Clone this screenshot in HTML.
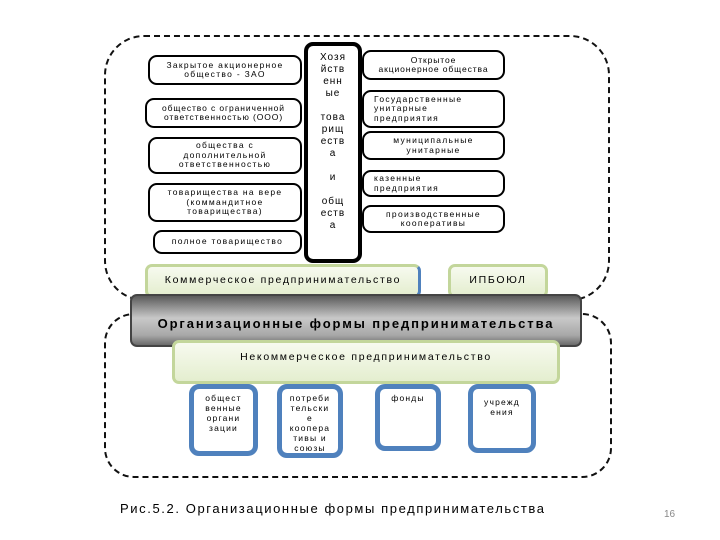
<!DOCTYPE html>
<html><head><meta charset="utf-8"><style>
body{margin:0;width:720px;height:540px;background:#fff;position:relative;overflow:hidden;font-family:"Liberation Sans","DejaVu Sans",sans-serif;}
div{position:absolute;box-sizing:border-box;}
.d{border:2px dashed #111;}
.b{border:2px solid #000;border-radius:9px;background:#fff;font-size:8.5px;letter-spacing:1.3px;text-align:center;line-height:9.5px;display:flex;align-items:center;justify-content:center;white-space:nowrap;}
.l{justify-content:flex-start;text-align:left;padding-left:10px;}
.g{border:3px solid #c3d69b;border-radius:7px;background:linear-gradient(#f7faef,#e4eecf);font-size:10.5px;letter-spacing:1.7px;text-align:center;white-space:nowrap;}
.u{border:5px solid #4f81bd;border-radius:10px;background:#fff;font-size:8.5px;letter-spacing:1.2px;line-height:10px;text-align:center;padding-top:4px;}
</style></head><body>
<div class="d" style="left:104px;top:35px;width:506px;height:266px;border-radius:40px;"></div>
<div class="d" style="left:104px;top:313px;width:508px;height:165px;border-radius:30px;"></div>

<div class="b" style="left:148px;top:55px;width:154px;height:30px;">Закрытое акционерное<br>общество - ЗАО</div>
<div class="b" style="left:145px;top:98px;width:157px;height:30px;letter-spacing:0.9px;">общество с ограниченной<br>ответственностью (ООО)</div>
<div class="b" style="left:148px;top:137px;width:154px;height:37px;">общества с<br>дополнительной<br>ответственностью</div>
<div class="b" style="left:148px;top:183px;width:154px;height:39px;">товарищества на вере<br>(коммандитное<br>товарищества)</div>
<div class="b" style="left:153px;top:230px;width:149px;height:24px;">полное товарищество</div>

<div class="b" style="left:304px;top:42px;width:58px;height:221px;border-width:4px;align-items:flex-start;padding-top:6px;font-size:10px;line-height:12px;letter-spacing:1px;">Хозя<br>йств<br>енн<br>ые<br><br>това<br>рищ<br>еств<br>а<br><br>и<br><br>общ<br>еств<br>а</div>

<div class="b" style="left:362px;top:50px;width:143px;height:30px;letter-spacing:0.9px;">Открытое<br>акционерное общества</div>
<div class="b l" style="left:362px;top:90px;width:143px;height:38px;">Государственные<br>унитарные<br>предприятия</div>
<div class="b" style="left:362px;top:131px;width:143px;height:29px;">муниципальные<br>унитарные</div>
<div class="b l" style="left:362px;top:170px;width:143px;height:27px;">казенные<br>предприятия</div>
<div class="b" style="left:362px;top:205px;width:143px;height:28px;">производственные<br>кооперативы</div>

<div class="g" style="left:145px;top:264px;width:276px;height:34px;line-height:26px;border-right-color:#4f81bd;">Коммерческое предпринимательство</div>
<div class="g" style="left:448px;top:264px;width:100px;height:34px;line-height:26px;">ИПБОЮЛ</div>

<div style="left:130px;top:294px;width:452px;height:53px;border-radius:7px;background:linear-gradient(#5a5a5a,#c8c8c8 45%,#a8a8a8 80%,#6a6a6a);border:2px solid #444;font-size:13px;font-weight:bold;letter-spacing:1.9px;text-align:center;line-height:56px;white-space:nowrap;">Организационные формы предпринимательства</div>

<div class="g" style="left:172px;top:340px;width:388px;height:44px;padding-top:8px;">Некоммерческое предпринимательство</div>

<div class="u" style="left:189px;top:384px;width:69px;height:72px;">общест<br>венные<br>органи<br>зации</div>
<div class="u" style="left:277px;top:384px;width:66px;height:74px;">потреби<br>тельски<br>е<br>коопера<br>тивы и<br>союзы</div>
<div class="u" style="left:375px;top:384px;width:66px;height:67px;">фонды</div>
<div class="u" style="left:468px;top:384px;width:68px;height:69px;padding-top:8px;">учрежд<br>ения</div>

<div style="left:120px;top:501px;font-size:13px;letter-spacing:1.6px;white-space:nowrap;">Рис.5.2. Организационные формы предпринимательства</div>
<div style="left:664px;top:509px;font-size:10px;color:#888;">16</div>
</body></html>
